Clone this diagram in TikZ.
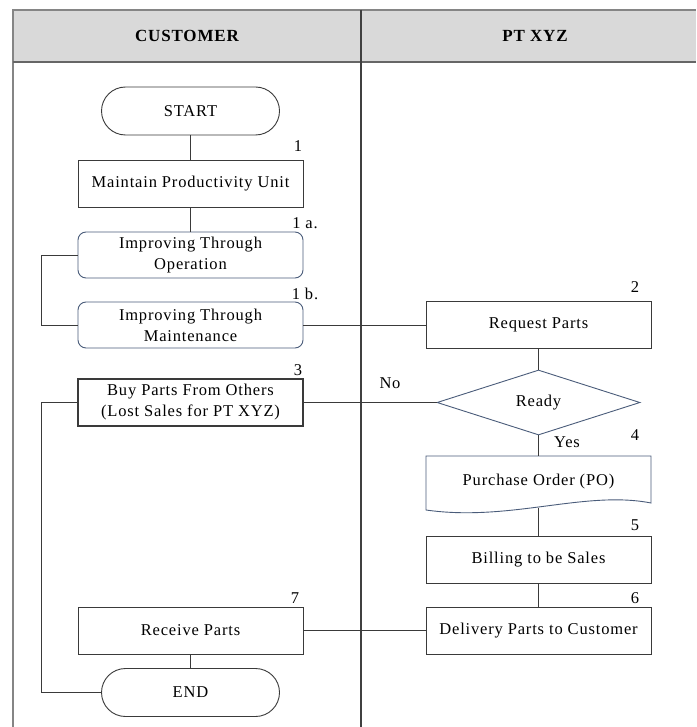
\documentclass[tikz,border=0pt]{standalone}
\usepackage{fontspec}
\setmainfont{Liberation Serif}[LetterSpace=5]
\usetikzlibrary{shapes.geometric}
\definecolor{hdr}{HTML}{D9D9D9}
\definecolor{slate}{HTML}{4A5C7A}
\definecolor{lineg}{HTML}{3A3A3A}
\definecolor{frameg}{HTML}{858585}
\tikzset{
  txt/.style={font=\fontsize{16.5}{21}\selectfont, text=black},
  procbox/.style={txt, draw=lineg, line width=0.9pt, minimum width=225pt, minimum height=47pt, inner sep=0pt, align=center, fill=white},
  roundbox/.style={procbox, draw=slate, rounded corners=8pt, minimum height=46pt},
  term/.style={txt, draw=lineg, line width=0.9pt, minimum width=178pt, minimum height=48pt, inner sep=0pt, rounded corners=24pt, fill=white},
  decision/.style={txt, diamond, draw=slate, line width=0.9pt, minimum width=203pt, minimum height=65pt, inner sep=0pt, aspect=3, fill=white},
  conn/.style={draw=lineg, line width=0.9pt},
  numlabel/.style={txt, inner sep=0pt},
  hdrtext/.style={font=\bfseries\fontsize{17}{20}\selectfont, inner sep=0pt}
}
\begin{document}
\begin{tikzpicture}[x=1pt,y=-1pt]
\useasboundingbox (0,0) rectangle (696,727);
% frame
\fill[hdr] (13,10) rectangle (696,62);
\draw[frameg, line width=1.3pt] (13,727) -- (13,10) -- (696,10);
\draw[color=black!60, line width=1.6pt] (13,62) -- (696,62);
\draw[color=black!75, line width=1.3pt] (361,10) -- (361,727);
\node[hdrtext] (hcust) at (187,36) {CUSTOMER};
\node[hdrtext] (hpt) at (535,36) {PT XYZ};
% nodes customer
\node[term] (start) at (190.5,111) {START};
\node[procbox] (b1) at (190.5,183.5) {Maintain Productivity Unit};
\node[roundbox] (b1a) at (190.5,255) {Improving Through\\Operation};
\node[roundbox] (b1b) at (190.5,325) {Improving Through\\Maintenance};
\node[procbox, line width=1.2pt] (b3) at (190.5,402.5) {Buy Parts From Others\\(Lost Sales for PT XYZ)};
\node[procbox] (b7) at (190.5,630.5) {Receive Parts};
\node[term] (endn) at (190.5,692.5) {END};
% nodes PT XYZ
\node[procbox] (b2) at (538.5,325) {Request Parts};
\node[decision] (dec) at (538.5,402.5) {Ready};
\draw[slate, line width=0.9pt, fill=white] (426,456) -- (651,456) -- (651,503)
   .. controls (585,490) and (510,522) .. (426,510) -- cycle;
\node[txt, inner sep=0pt] (po) at (538.5,482) {Purchase Order (PO)};
\coordinate (potop) at (538.5,456);
\coordinate (pobot) at (538.5,507.5);
\node[procbox] (b5) at (538.5,560) {Billing to be Sales};
\node[procbox] (b6) at (538.5,630.5) {Delivery Parts to Customer};
% labels
\node[numlabel] (l1) at (298,146) {1};
\node[numlabel] (l1a) at (305,223) {1 a.};
\node[numlabel] (l1b) at (305,294) {1 b.};
\node[numlabel] (l2) at (635,287) {2};
\node[numlabel] (l3) at (298,370) {3};
\node[numlabel] (l4) at (635,435) {4};
\node[numlabel] (l5) at (635,525) {5};
\node[numlabel] (l6) at (635,598) {6};
\node[numlabel] (l7) at (295,598) {7};
\node[numlabel] (lno) at (390,383) {No};
\node[numlabel] (lyes) at (567,442) {Yes};
% connectors
\draw[conn] (start.south) -- (b1.north);
\draw[conn] (b1.south) -- (b1a.north);
\draw[conn] (b1a.west) -- ++(-36,0) |- (b1b.west);
\draw[conn] (b1b.east) -- (b2.west);
\draw[conn] (b2.south) -- (dec.north);
\draw[conn] (dec.west) -- (b3.east);
\draw[conn] (b3.west) -- ++(-36,0) |- (endn.west);
\draw[conn] (dec.south) -- (potop);
\draw[conn] (pobot) -- (b5.north);
\draw[conn] (b5.south) -- (b6.north);
\draw[conn] (b6.west) -- (b7.east);
\draw[conn] (b7.south) -- (endn.north);
\end{tikzpicture}
\end{document}
